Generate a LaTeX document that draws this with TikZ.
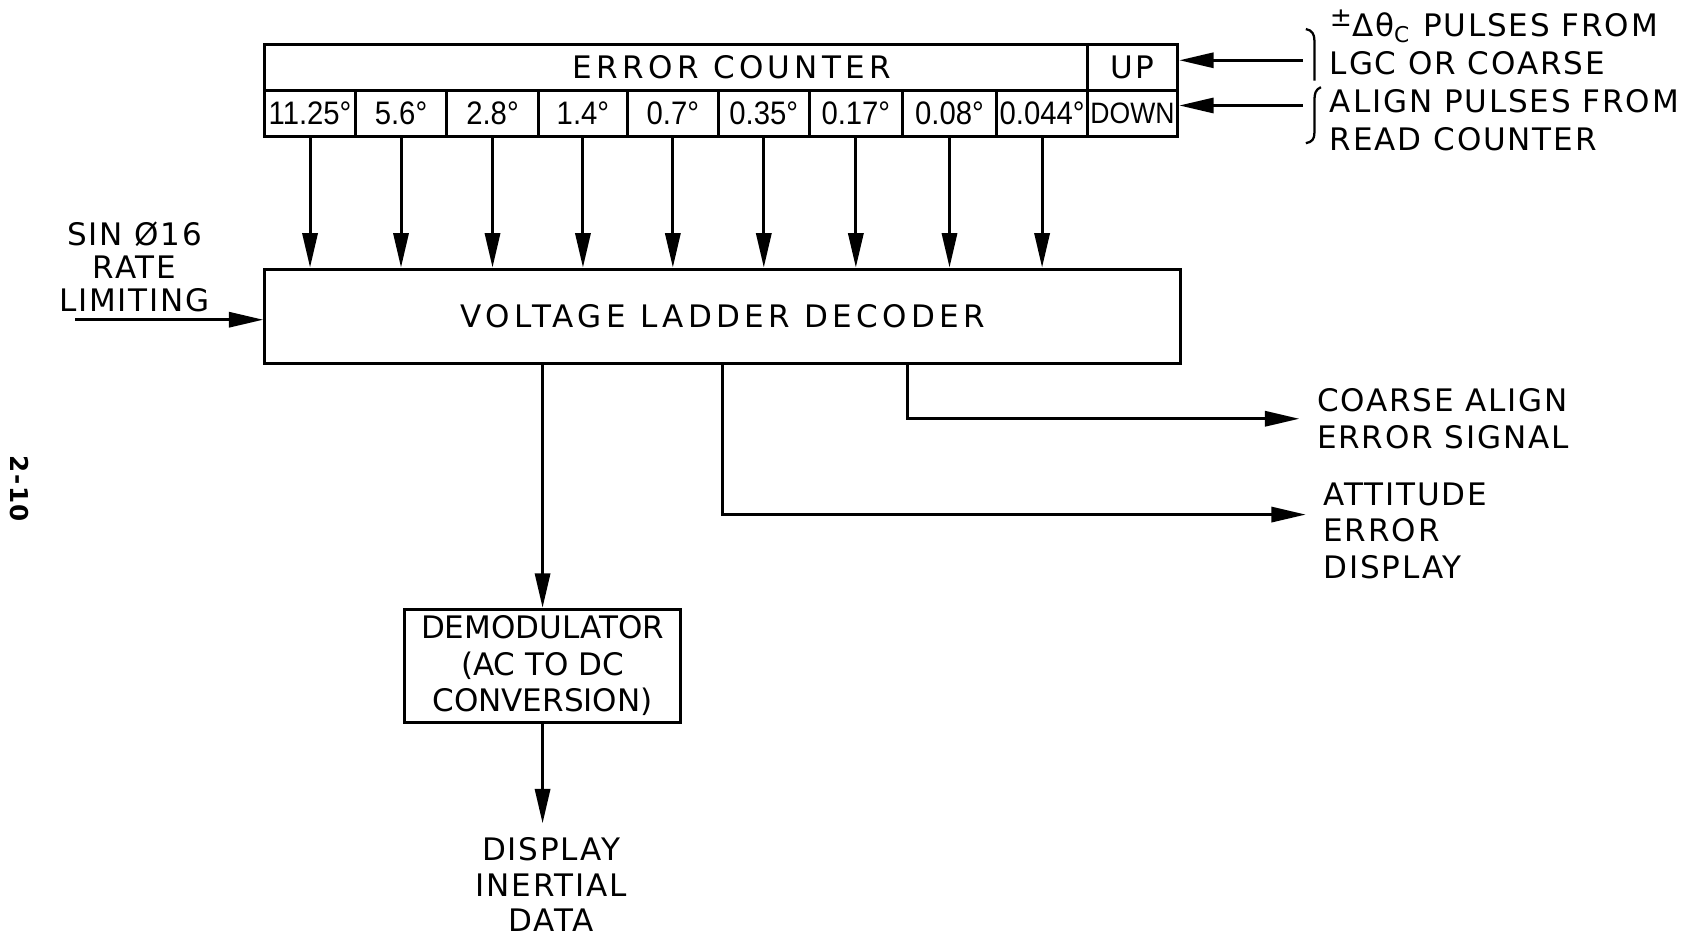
\documentclass[tikz,border=0pt]{standalone}
\usepackage{fontspec}
\setmainfont{DejaVu Sans}[LetterSpace=6]
\newfontfamily\cellfont{Liberation Sans}[FakeStretch=0.9]
\usetikzlibrary{arrows.meta,positioning}

\begin{document}
\begin{tikzpicture}[
    font=\fontsize{8.2}{9.6}\selectfont,
    line width=0.8pt,
    sig/.style={-{Triangle[length=3.2mm,width=1.4mm]}, line width=0.8pt},
    cell/.style={draw, minimum height=4.3mm, inner sep=0pt,
                 font=\cellfont\fontsize{8.6}{9}\selectfont},
    block/.style={draw, inner sep=0pt, align=center},
    wide/.style={font=\fontsize{8.2}{9.6}\selectfont\addfontfeature{LetterSpace=14}},
    lbl/.style={align=center, inner sep=0pt},
    side/.style={align=left, anchor=west, inner xsep=1.5mm, inner ysep=0pt}
]

\useasboundingbox (0,0) rectangle (15.68,8.69);

% error counter
\node[cell, minimum width=76.4mm] (counter) at (6.28,8.065) {};
\node[wide, inner sep=0pt] (countertxt) at (6.80,8.065) {ERROR COUNTER};
\node[cell, minimum width=8.4mm, font=\fontsize{8.2}{9.6}\selectfont] (up) at (10.52,8.065) {UP};
\node[cell, minimum width=8.4mm, font=\cellfont\fontsize{7.8}{8}\selectfont] (down) at (10.52,7.635) {DOWN};
\foreach \i/\xc/\w/\lab in {1/2.88/8.4/11.25°, 2/3.725/8.5/5.6°, 3/4.575/8.5/2.8°,
    4/5.415/8.3/1.4°, 5/6.25/8.4/0.7°, 6/7.095/8.5/0.35°, 7/7.95/8.6/0.17°,
    8/8.82/8.8/0.08°, 9/9.68/8.4/0.044°}
    \node[cell, minimum width=\w mm] (c\i) at (\xc,7.635) {\lab};

% decoder
\node[block, wide, minimum width=85.1mm, minimum height=8.8mm] (dec) at (6.715,5.75)
    {VOLTAGE LADDER DECODER};
\foreach \i in {1,...,9}
    \draw[sig] (c\i.south) -- (c\i.south |- dec.north);

% rate limiting input
\coordinate (sinin) at (0.70,5.72);
\node[lbl, font=\fontsize{8.2}{8.8}\selectfont] (sinlbl) at (1.25,6.21) {SIN Ø16\\RATE\\LIMITING};
\draw[sig] (sinin) -- (sinin -| dec.west);

% demodulator
\node[block, minimum width=25.6mm, minimum height=10.5mm,
      font=\fontsize{8.2}{9.6}\selectfont\addfontfeature{LetterSpace=0}] (demod) at (5.04,2.505)
    {DEMODULATOR\\(AC TO DC\\CONVERSION)};
\draw[sig] (dec.south -| demod.north) -- (demod.north);
\node[lbl, inner ysep=1.2mm, font=\fontsize{8.2}{9.4}\selectfont] (inertial) at (5.12,0.47)
    {DISPLAY\\INERTIAL\\DATA};
\draw[sig] (demod.south) -- (demod.south |- inertial.north);

% outputs
\node[side] (coarse) at (12.07,4.80) {COARSE ALIGN\\ERROR SIGNAL};
\node[side] (att) at (12.13,3.76) {ATTITUDE\\ERROR\\DISPLAY};
\draw[sig] ([xshift=17.15mm]dec.south) |- (coarse.west);
\draw[sig] (dec.south) |- ([yshift=1.5mm]att.west);

% pulse inputs
\coordinate (upin) at (12.10,8.13);
\coordinate (downin) at (12.10,7.71);
\draw[sig] (upin) -- (upin -| up.east);
\draw[sig] (downin) -- (downin -| down.east);
\draw[line width=0.6pt] (12.13,8.42) .. controls (12.19,8.41) and (12.21,8.37) .. (12.21,8.31)
    -- (12.21,7.94);
\draw[line width=0.6pt] (12.27,7.88) .. controls (12.22,7.86) and (12.21,7.82) .. (12.21,7.76)
    -- (12.21,7.46) .. controls (12.21,7.40) and (12.19,7.37) .. (12.13,7.36);
\node[side, font=\fontsize{8.2}{10}\selectfont] (pulses) at (12.19,7.945)
    {\raisebox{0.6ex}{\scriptsize ±}Δθ\textsubscript{C} PULSES FROM\\LGC OR COARSE\\ALIGN PULSES FROM\\READ COUNTER};

\node[rotate=-90, font=\bfseries\fontsize{6.5}{7}\selectfont] (pgno) at (0.18,4.15) {2-10};

\end{tikzpicture}
\end{document}
